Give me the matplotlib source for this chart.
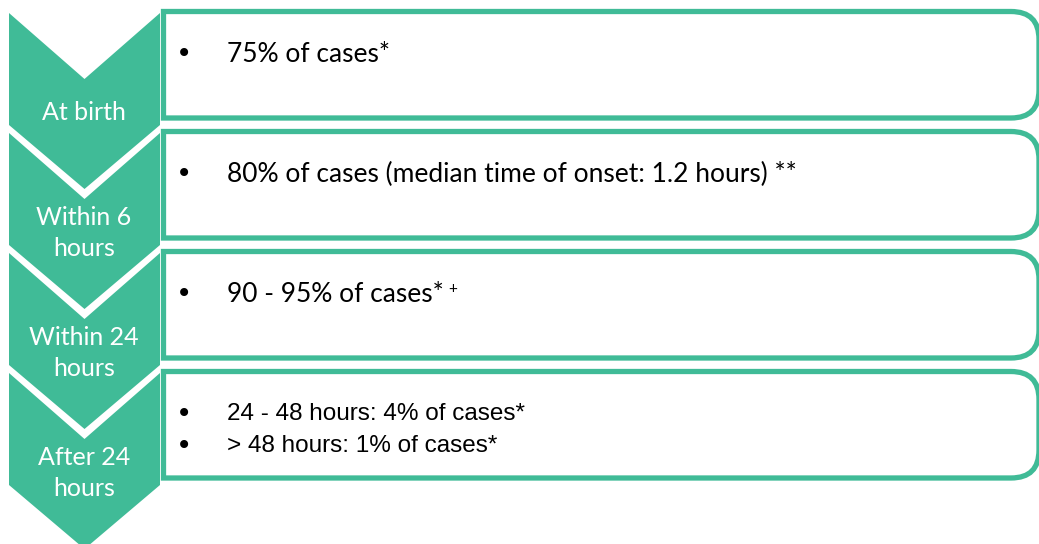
import matplotlib.pyplot as plt
from matplotlib.patches import Polygon, PathPatch
from matplotlib.path import Path

# stage labels and the notes for each stage
stages = ["At birth", "Within 6\nhours", "Within 24\nhours", "After 24\nhours"]
notes = [
    ["75% of cases*"],
    ["80% of cases (median time of onset: 1.2 hours) **"],
    ["90 - 95% of cases*"],
    ["24 - 48 hours: 4% of cases*", "> 48 hours: 1% of cases*"],
]
superscripts = ["", "", "+", ""]

green = "#40bb97"

fig = plt.figure(figsize=(10.39, 5.44), dpi=100)
ax = fig.add_axes([0, 0, 1, 1])
ax.set_xlim(0, 1039)
ax.set_ylim(544, 0)
ax.axis("off")

pitch = 120
for i, lab in enumerate(stages):
    top = 13 + pitch * i
    # chevron
    pts = [(9, top), (84.5, top + 66), (160, top), (160, top + 112),
           (84.5, top + 176), (9, top + 112)]
    ax.add_patch(Polygon(pts, closed=True, fc=green, ec="none"))
    ax.text(84, top + 100, lab, color="white", ha="center", va="center",
            fontsize=18, family="Lato", linespacing=1.45)

    # box with rounded right corners
    bt, bb = top - 1.5, top + 105
    L, R, r = 163.5, 1039, 28
    verts = [(L, bt), (R - r, bt), (R, bt), (R, bt + r), (R, bb - r),
             (R, bb), (R - r, bb), (L, bb), (L, bt)]
    codes = [Path.MOVETO, Path.LINETO, Path.CURVE3, Path.CURVE3, Path.LINETO,
             Path.CURVE3, Path.CURVE3, Path.LINETO, Path.CLOSEPOLY]
    ax.add_patch(PathPatch(Path(verts, codes), fc="white", ec=green, lw=3.8))

    fam = "Liberation Sans" if i == 3 else "Lato"
    size = 17.5 if i == 3 else 19
    for j, line in enumerate(notes[i]):
        y = top + 41 + 32 * j
        ax.text(184, y, "\u2022", ha="center", va="center", fontsize=20, color="black")
        t = ax.text(227, y, line, ha="left", va="center", fontsize=size,
                    family=fam, color="black")
        if superscripts[i]:
            ax.annotate(superscripts[i], xy=(1, 1), xycoords=t, xytext=(3, 0),
                        textcoords="offset points", ha="left", va="top",
                        fontsize=11, family=fam)

fig.savefig("out.png", dpi=100)
